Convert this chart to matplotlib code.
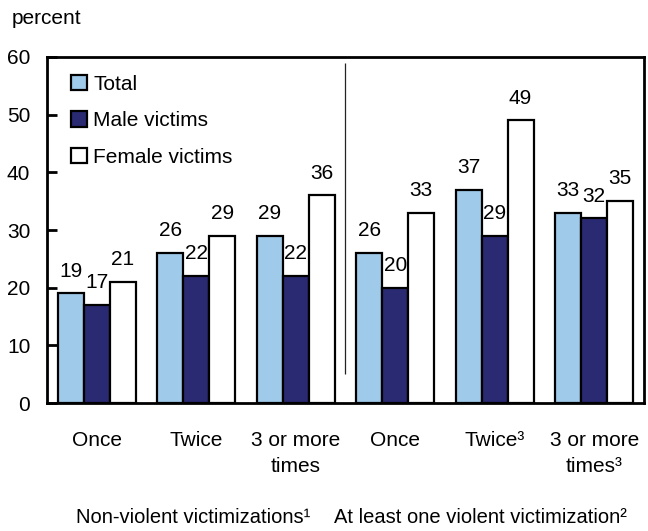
import matplotlib
matplotlib.use("Agg")
import matplotlib.pyplot as plt
import numpy as np

plt.rcParams["font.family"] = ["Liberation Sans", "DejaVu Sans"]

# Frequência de vitimização, por sexo da vítima (%)
categories = ["Once", "Twice", "3 or more\ntimes",
              "Once", "Twice³", "3 or more\ntimes³"]
series_names = ["Total", "Male victims", "Female victims"]
total = [19, 26, 29, 26, 37, 33]
male = [17, 22, 22, 20, 29, 32]
female = [21, 29, 36, 33, 49, 35]
group_titles = ["Non-violent victimizations¹", "At least one violent victimization²"]
y_ticks = [0, 10, 20, 30, 40, 50, 60]

colors = ["#9fcae9", "#2a2a72", "#ffffff"]
FS = 15

fig = plt.figure(figsize=(6.48, 5.31), dpi=100)
ax = fig.add_axes([0.0725, 0.241, 0.9213, 0.6517])

x = np.arange(len(categories))
w = 0.26
for i, (vals, name, col) in enumerate(zip([total, male, female], series_names, colors)):
    pos = x + (i - 1) * w
    ax.bar(pos, vals, width=w, color=col, edgecolor="black", linewidth=1.6,
           label=name, zorder=3)
    for px, v in zip(pos, vals):
        ax.annotate(str(v), (px, v), xytext=(0, 12), textcoords="offset points",
                    ha="center", va="baseline", fontsize=FS)

# separador entre os dois blocos
ax.vlines(2.5, 5, 59, color="#222222", linewidth=0.9)

ax.set_xlim(-0.5, 5.5)
ax.set_ylim(0, 60)
ax.set_yticks(y_ticks)
ax.set_xticks(x)
ax.set_xticklabels(categories, fontsize=FS, linespacing=1.45)
ax.tick_params(axis="x", length=0, pad=20)
ax.tick_params(axis="y", direction="in", length=7, width=2, pad=12, labelsize=FS)
for sp in ax.spines.values():
    sp.set_linewidth(2)

leg = ax.legend(loc="upper left", bbox_to_anchor=(0.02, 0.985), frameon=False,
                fontsize=FS, handlelength=0.75, handleheight=0.75,
                handletextpad=0.3, labelspacing=0.85, borderaxespad=0.2)
for h in leg.legend_handles:
    h.set_linewidth(1.6)

fig.text(12 / 648, 1 - 18 / 531, "percent", fontsize=FS, va="center", ha="left")
fig.text(0.298, 0.008, group_titles[0], fontsize=14.5, ha="center", va="bottom")
fig.text(0.742, 0.008, group_titles[1], fontsize=14.5, ha="center", va="bottom")

fig.savefig("out.png", dpi=100)
